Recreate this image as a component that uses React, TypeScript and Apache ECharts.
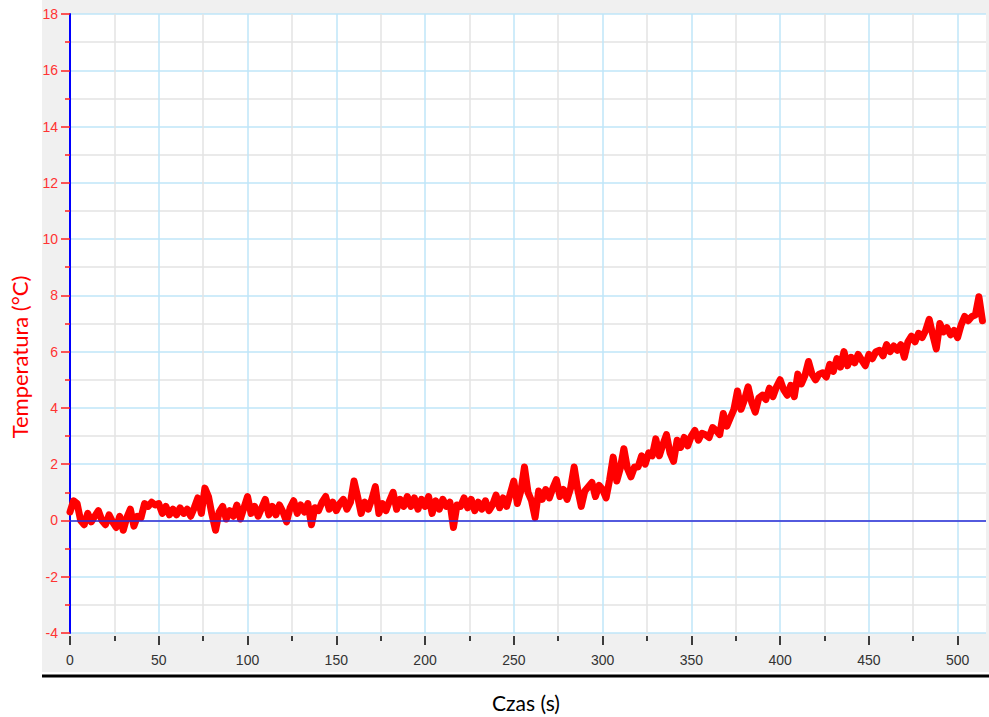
import React, { useEffect, useRef } from 'react';
import * as echarts from 'echarts';

// Sampling step of the recorded temperature (seconds)
const SAMPLE_STEP = 2;

// Temperature readings (°C), one every SAMPLE_STEP seconds from t = 0 s
const temperatures = [
  0.3, 0.7, 0.6, 0.0, -0.15, 0.25, -0.05, 0.15, 0.35, 0.0,
  -0.15, 0.2, -0.05, -0.25, 0.15, -0.35, 0.1, 0.4, -0.2, 0.15,
  0.1, 0.6, 0.5, 0.65, 0.55, 0.6, 0.25, 0.5, 0.2, 0.4,
  0.2, 0.45, 0.25, 0.4, 0.15, 0.45, 0.8, 0.25, 1.15, 0.85,
  0.2, -0.35, 0.3, 0.5, 0.05, 0.35, 0.15, 0.55, 0.05, 0.45,
  0.85, 0.25, 0.5, 0.15, 0.45, 0.75, 0.2, 0.5, 0.2, 0.55,
  0.3, -0.05, 0.45, 0.7, 0.25, 0.55, 0.3, 0.6, -0.15, 0.45,
  0.35, 0.65, 0.85, 0.4, 0.65, 0.35, 0.6, 0.75, 0.4, 0.65,
  1.4, 0.85, 0.25, 0.65, 0.4, 0.75, 1.2, 0.25, 0.6, 0.35,
  0.7, 1.0, 0.4, 0.75, 0.5, 0.85, 0.5, 0.8, 0.4, 0.75,
  0.5, 0.85, 0.25, 0.7, 0.4, 0.75, 0.5, 0.65, -0.25, 0.55,
  0.5, 0.8, 0.45, 0.75, 0.35, 0.65, 0.4, 0.7, 0.35, 0.55,
  0.9, 0.45, 0.8, 0.5, 0.95, 1.4, 0.6, 1.05, 1.9, 1.0,
  0.7, 0.1, 1.05, 0.75, 1.1, 0.8, 1.15, 1.45, 0.85, 1.1,
  0.75, 1.15, 1.9, 1.1, 0.5, 1.05, 1.2, 1.35, 0.85, 1.25,
  1.1, 0.8, 1.45, 2.25, 1.4, 1.85, 2.55, 1.85, 1.55, 1.9,
  1.9, 2.3, 2.0, 2.4, 2.3, 2.9, 2.3, 2.7, 3.05, 2.4,
  2.1, 2.85, 2.6, 2.95, 2.65, 3.0, 3.2, 2.85, 3.1, 3.05,
  2.95, 3.3, 3.2, 3.05, 3.8, 3.35, 3.65, 3.95, 4.6, 3.95,
  4.3, 4.75, 4.2, 3.85, 4.35, 4.45, 4.3, 4.7, 4.4, 4.75,
  5.0, 4.65, 4.45, 4.8, 4.4, 5.2, 4.85, 5.15, 5.65, 5.2,
  5.0, 5.2, 5.25, 5.1, 5.55, 5.3, 5.75, 5.45, 6.0, 5.5,
  5.8, 5.6, 5.9, 5.7, 5.5, 5.9, 5.75, 6.0, 6.05, 5.85,
  6.25, 6.0, 6.2, 6.05, 6.25, 5.8, 6.35, 6.55, 6.35, 6.65,
  6.5, 6.75, 7.15, 6.6, 6.1, 7.0, 6.7, 6.85, 6.6, 6.75,
  6.5, 6.95, 7.25, 7.1, 7.25, 7.3, 7.95, 7.1,
];

// Axis tick values
const xMajorTicks = [0, 50, 100, 150, 200, 250, 300, 350, 400, 450, 500];
const xMinorTicks = [25, 75, 125, 175, 225, 275, 325, 375, 425, 475];
const yTickLabels = [-4, -2, 0, 2, 4, 6, 8, 10, 12, 14, 16, 18];

const X_MIN = 0;
const X_MAX = 516;
const Y_MIN = -4;
const Y_MAX = 18;

const GRID_BLUE = '#bfe6f9';
const GRID_GRAY = '#e3e3e3';

export default function App() {
  const ref = useRef<HTMLDivElement>(null);

  useEffect(() => {
    if (!ref.current) return;
    const chart = echarts.init(ref.current, null, { renderer: 'svg' });
    const data = temperatures.map((v, i) => [i * SAMPLE_STEP, v]);

    chart.setOption({
      animation: false,
      backgroundColor: '#ffffff',
      textStyle: { fontFamily: 'Liberation Sans, Arial, sans-serif' },
      grid: {
        left: 70,
        right: 3,
        top: 14,
        bottom: 84,
        show: true,
        backgroundColor: '#ffffff',
        borderWidth: 0,
        containLabel: false,
        outerBoundsMode: 'none',
      },
      graphic: [
        {
          type: 'rect',
          z: -10,
          silent: true,
          shape: { x: 42, y: 0, width: 947, height: 672 },
          style: { fill: '#f0f0f0' },
        },
        {
          type: 'line',
          silent: true,
          shape: { x1: 42, y1: 676, x2: 989, y2: 676 },
          style: { stroke: '#000000', lineWidth: 3 },
        },
        {
          type: 'text',
          silent: true,
          x: 526,
          y: 702,
          style: {
            text: 'Czas (s)',
            fontSize: 21,
            fontFamily: 'Lato, Open Sans, sans-serif',
            fill: '#000000',
            align: 'center',
            verticalAlign: 'middle',
          },
        },
        {
          type: 'text',
          silent: true,
          x: 19,
          y: 357,
          rotation: Math.PI / 2,
          style: {
            text: 'Temperatura (°C)',
            fontSize: 22,
            fontFamily: 'Lato, Open Sans, sans-serif',
            fill: '#ff0000',
            align: 'center',
            verticalAlign: 'middle',
          },
        },
      ],
      xAxis: [
        {
          type: 'value',
          position: 'bottom',
          min: X_MIN,
          max: X_MAX,
          interval: 50,
          offset: 3,
          axisLine: { show: false, onZero: false },
          axisTick: {
            show: true,
            customValues: xMajorTicks,
            length: 9,
            lineStyle: { color: '#000000', width: 1.5 },
          },
          axisLabel: {
            customValues: xMajorTicks,
            margin: 17,
            color: '#333333',
            fontSize: 14,
          },
          splitLine: { show: true, lineStyle: { color: GRID_BLUE, width: 1.5 } },
        },
        {
          type: 'value',
          position: 'bottom',
          min: X_MIN,
          max: X_MAX,
          interval: 25,
          offset: 3,
          axisLine: { show: false, onZero: false },
          axisTick: {
            show: true,
            customValues: xMinorTicks,
            length: 5,
            lineStyle: { color: '#000000', width: 1.5 },
          },
          axisLabel: { show: false },
          splitLine: { show: true, lineStyle: { color: GRID_GRAY, width: 1.5 } },
        },
      ],
      yAxis: {
        type: 'value',
        min: Y_MIN,
        max: Y_MAX,
        interval: 2,
        axisLine: {
          show: true,
          onZero: false,
          lineStyle: { color: '#0000ff', width: 2 },
        },
        axisTick: {
          show: true,
          length: 9,
          lineStyle: { color: '#ff2020', width: 1.5 },
        },
        minorTick: {
          show: true,
          splitNumber: 2,
          length: 5,
          lineStyle: { color: '#ff2020', width: 1.5 },
        },
        axisLabel: {
          color: '#ff3333',
          fontSize: 14,
          margin: 12,
          formatter: (v: number) => (yTickLabels.includes(v) ? String(v) : ''),
        },
        splitLine: { show: true, lineStyle: { color: GRID_BLUE, width: 1.5 } },
        minorSplitLine: { show: true, lineStyle: { color: GRID_GRAY, width: 1.5 } },
      },
      series: [
        {
          type: 'line',
          xAxisIndex: 0,
          yAxisIndex: 0,
          data,
          showSymbol: false,
          symbol: 'none',
          z: 3,
          lineStyle: { color: '#ff0000', width: 7, join: 'round', cap: 'round' },
          markLine: {
            silent: true,
            symbol: ['none', 'none'],
            label: { show: false },
            lineStyle: { color: '#2a2ad4', width: 1.5, type: 'solid' },
            data: [{ yAxis: 0 }],
          },
        },
      ],
    });

    return () => chart.dispose();
  }, []);

  return (
    <div
      ref={ref}
      style={{ position: 'absolute', left: 0, top: 0, width: 989, height: 717 }}
    />
  );
}
